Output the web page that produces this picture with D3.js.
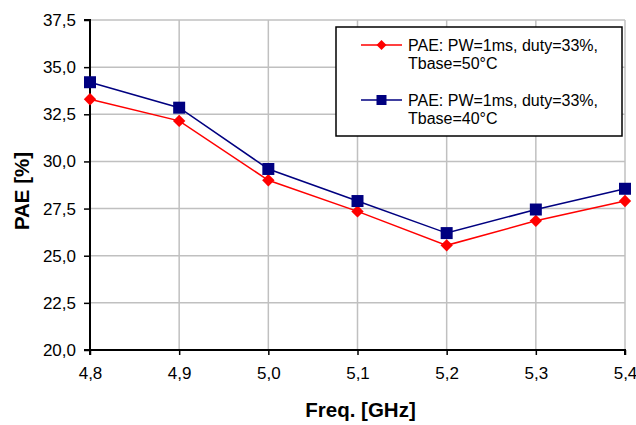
<!DOCTYPE html>
<html><head><meta charset="utf-8">
<script src="https://cdn.jsdelivr.net/npm/d3@7"></script>
<style>body{margin:0;background:#fff}svg{display:block}text{font-family:"Liberation Sans",Arial,sans-serif}</style>
</head><body>
<svg id="c" width="636" height="425"></svg>
<script>
const freqs = [4.8, 4.9, 5.0, 5.1, 5.2, 5.3, 5.4];
const pae50 = [33.3, 32.15, 29.0, 27.35, 25.55, 26.85, 27.9];
const pae40 = [34.2, 32.85, 29.6, 27.9, 26.2, 27.45, 28.55];
const yTicks = [20, 22.5, 25, 27.5, 30, 32.5, 35, 37.5];
const seriesNames = ["PAE: PW=1ms, duty=33%,|Tbase=50°C", "PAE: PW=1ms, duty=33%,|Tbase=40°C"];
const xTitle = "Freq. [GHz]";
const yTitle = "PAE [%]";

const svg = d3.select("#c");
const L = 90, R = 625, T = 20, B = 350;
const x = d3.scaleLinear().domain([4.8, 5.4]).range([L, R]);
const y = d3.scaleLinear().domain([20, 37.5]).range([B, T]);
const fmt = v => d3.format(".1f")(v).replace(".", ",");

// grid
svg.append("g").selectAll("line").data(yTicks.slice(1)).join("line")
  .attr("x1", L).attr("x2", R).attr("y1", d => y(d)).attr("y2", d => y(d))
  .attr("stroke", "#c0c0c0").attr("stroke-width", 1.5);
svg.append("g").selectAll("line").data(freqs.slice(1)).join("line")
  .attr("x1", d => x(d)).attr("x2", d => x(d)).attr("y1", T).attr("y2", B)
  .attr("stroke", "#c0c0c0").attr("stroke-width", 1.5);

// axes
const yAxis = svg.append("g").attr("transform", `translate(${L},0)`)
  .call(d3.axisLeft(y).tickValues(yTicks).tickFormat(fmt).tickSize(6).tickPadding(8));
const xAxis = svg.append("g").attr("transform", `translate(0,${B})`)
  .call(d3.axisBottom(x).tickValues(freqs).tickFormat(fmt).tickSize(5).tickPadding(12));
[yAxis, xAxis].forEach(a => {
  a.select(".domain").attr("stroke", "#000").attr("stroke-width", 2);
  a.selectAll(".tick line").attr("stroke", "#000").attr("stroke-width", 1.5);
  a.selectAll(".tick text").attr("font-size", 17).attr("fill", "#000")
    .attr("font-family", "Liberation Sans, Arial, sans-serif");
});
xAxis.select(".domain").attr("d", `M${L},5V0H${R}V5`);
yAxis.select(".domain").attr("d", `M-6,${T}H0V${B}H-6`);

// titles
svg.append("text").attr("x", (L + R) / 2 + 3).attr("y", 417).attr("text-anchor", "middle")
  .attr("font-weight", "bold").attr("font-size", 20.5).text(xTitle);
svg.append("text").attr("transform", `translate(29,191) rotate(-90)`).attr("text-anchor", "middle")
  .attr("font-weight", "bold").attr("font-size", 20.5).text(yTitle);

// series
const diamond = s => `M0,${-s}L${s},0L0,${s}L${-s},0Z`;
const square = s => `M${-s},${-s}H${s}V${s}H${-s}Z`;
const series = [
  {vals: pae50, color: "#ff0000", shape: () => diamond(6.2)},
  {vals: pae40, color: "#000080", shape: () => square(6)}
];
const line = d3.line().x((d, i) => x(freqs[i])).y(d => y(d));
series.forEach(s => {
  svg.append("path").attr("d", line(s.vals)).attr("fill", "none")
    .attr("stroke", s.color).attr("stroke-width", 1.5);
  svg.append("g").selectAll("path").data(s.vals).join("path")
    .attr("transform", (d, i) => `translate(${x(freqs[i])},${y(d)})`)
    .attr("d", s.shape).attr("fill", s.color);
});

// legend
const lg = svg.append("g");
lg.append("rect").attr("x", 336).attr("y", 27).attr("width", 286).attr("height", 109)
  .attr("fill", "#fff").attr("stroke", "#000").attr("stroke-width", 1.5);
const rows = [45, 100];
series.forEach((s, i) => {
  const cy = rows[i];
  lg.append("line").attr("x1", 361).attr("x2", 402).attr("y1", cy).attr("y2", cy)
    .attr("stroke", s.color).attr("stroke-width", 1.5);
  lg.append("path").attr("transform", `translate(381.5,${cy})`)
    .attr("d", i === 0 ? diamond(5) : square(5)).attr("fill", s.color);
  const parts = seriesNames[i].split("|");
  const t = lg.append("text").attr("x", 408).attr("y", cy + 6).attr("font-size", 16);
  t.append("tspan").attr("x", 408).attr("dy", 0).text(parts[0]);
  t.append("tspan").attr("x", 408).attr("dy", 18).text(parts[1]);
});
</script>
</body></html>
